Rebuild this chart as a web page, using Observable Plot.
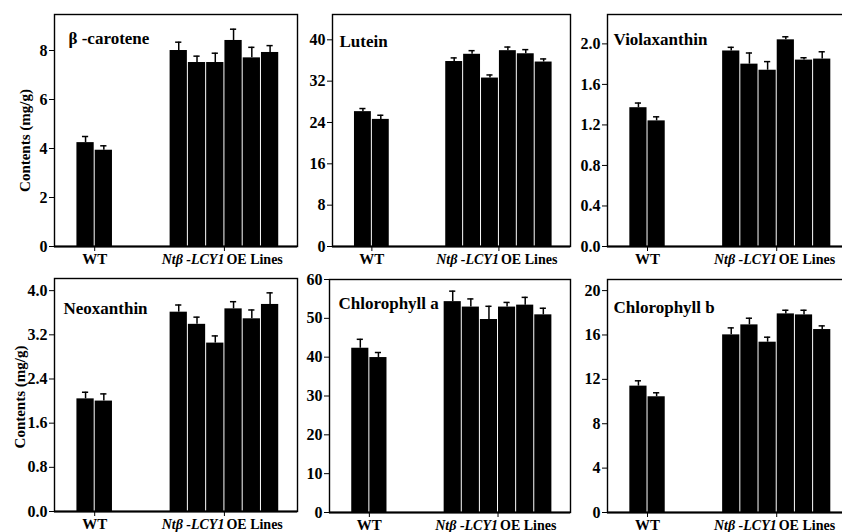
<!DOCTYPE html>
<html><head><meta charset="utf-8">
<script src="https://cdn.jsdelivr.net/npm/d3@7"></script>
<script src="https://cdn.jsdelivr.net/npm/@observablehq/plot@0.6"></script>
<style>
html,body{margin:0;padding:0;background:#fff;}
#chart{position:relative;width:842px;height:532px;overflow:hidden;font-family:"Liberation Serif","Times New Roman",serif;}
</style></head><body><div id="chart"></div>
<script>
// ---- data ----
const lines = ["WT-1","WT-2","OE-1","OE-2","OE-3","OE-4","OE-5","OE-6"];
const groups = ["WT","WT","OE","OE","OE","OE","OE","OE"];
const titles = ["β -carotene","Lutein","Violaxanthin","Neoxanthin","Chlorophyll a","Chlorophyll b"];
const betaCarotene    = [4.24, 3.93, 8.00, 7.51, 7.51, 8.41, 7.70, 7.92];
const betaCaroteneErr = [0.25, 0.18, 0.34, 0.26, 0.38, 0.46, 0.43, 0.28];
const lutein          = [26.1, 24.6, 35.8, 37.2, 32.6, 37.9, 37.3, 35.7];
const luteinErr       = [0.6, 0.8, 0.7, 0.7, 0.6, 0.7, 0.8, 0.6];
const violaxanthin    = [1.37, 1.24, 1.93, 1.80, 1.74, 2.04, 1.84, 1.85];
const violaxanthinErr = [0.046, 0.04, 0.036, 0.11, 0.085, 0.03, 0.023, 0.072];
const neoxanthin      = [2.04, 2.00, 3.61, 3.39, 3.05, 3.67, 3.49, 3.75];
const neoxanthinErr   = [0.12, 0.13, 0.13, 0.13, 0.13, 0.13, 0.16, 0.21];
const chlA            = [42.3, 39.9, 54.3, 52.9, 49.7, 52.9, 53.4, 50.9];
const chlAErr         = [2.3, 1.3, 2.7, 2.1, 3.4, 1.2, 2.0, 1.7];
const chlB            = [11.39, 10.43, 16.01, 16.91, 15.35, 17.90, 17.81, 16.49];
const chlBErr         = [0.48, 0.36, 0.63, 0.60, 0.45, 0.33, 0.42, 0.33];
const yTicks1 = [0, 2, 4, 6, 8];
const yTicks2 = [0, 8, 16, 24, 32, 40];
const yTicks3 = [0, 0.4, 0.8, 1.2, 1.6, 2.0];
const yTicks4 = [0, 0.8, 1.6, 2.4, 3.2, 4.0];
const yTicks5 = [0, 10, 20, 30, 40, 50, 60];
const yTicks6 = [0, 4, 8, 12, 16, 20];
const yMax = [9.47, 44.9, 2.29, 4.22, 60, 21];
const xLabelWT = "WT";
const xLabelOEItalic = "Ntβ -LCY1";
const xLabelOE = "OE Lines";
const yTitle = "Contents (mg/g)";

// ---- layout ----
const FONT = "Liberation Serif";
const X_DOMAIN = [0, 13.3];
const WT_START = 1.2, OE_START = 6.3;
function slot(i) { return groups[i] === "WT" ? WT_START + i : OE_START + (i - 2); }
const WT_CENTER = WT_START + 1, OE_CENTER = OE_START + 3;

const panels = [
  {title: titles[0], v: betaCarotene, e: betaCaroteneErr, ticks: yTicks1, fmt: d3.format("d"), max: yMax[0],
   fl: 54, fr: 297, ft: 14, fb: 246, tdx: 14, tdy: 29, yTitle: true, ytdx: -29, ytdy: 10},
  {title: titles[1], v: lutein, e: luteinErr, ticks: yTicks2, fmt: d3.format("d"), max: yMax[1],
   fl: 332, fr: 570, ft: 14, fb: 246, tdx: 7, tdy: 32},
  {title: titles[2], v: violaxanthin, e: violaxanthinErr, ticks: yTicks3, fmt: d3.format(".1f"), max: yMax[2],
   fl: 607, fr: 849, ft: 14, fb: 246, tdx: 6, tdy: 30},
  {title: titles[3], v: neoxanthin, e: neoxanthinErr, ticks: yTicks4, fmt: d3.format(".1f"), max: yMax[3],
   fl: 54, fr: 297, ft: 278, fb: 511, tdx: 9, tdy: 35, yTitle: true, ytdx: -34, ytdy: 2},
  {title: titles[4], v: chlA, e: chlAErr, ticks: yTicks5, fmt: d3.format("d"), max: yMax[4],
   fl: 329, fr: 570, ft: 279, fb: 512, tdx: 9, tdy: 29},
  {title: titles[5], v: chlB, e: chlBErr, ticks: yTicks6, fmt: d3.format("d"), max: yMax[5],
   fl: 607, fr: 849, ft: 279, fb: 512, tdx: 6, tdy: 33}
];

const container = document.getElementById("chart");
for (const p of panels) {
  const mL = p.fl, mR = 4, mT = 4, mB = 30;
  const fw = p.fr - p.fl, fh = p.fb - p.ft;
  const data = lines.map((id, i) => ({id, group: groups[i], v: p.v[i], e: p.e[i], x0: slot(i)}));
  const labels = [{x: WT_CENTER, t: xLabelWT}];
  const marks = [
    Plot.rectY(data, {x1: "x0", x2: d => d.x0 + 1, y1: 0, y2: "v", fill: "black", insetLeft: 0.5, insetRight: 0.5}),
    Plot.ruleX(data, {x: d => d.x0 + 0.5, y1: "v", y2: d => d.v + d.e, stroke: "black", strokeWidth: 1.5}),
    Plot.ruleY(data, {y: d => d.v + d.e, x1: d => d.x0 + 0.33, x2: d => d.x0 + 0.67, stroke: "black", strokeWidth: 1.5}),
    Plot.frame({stroke: "black", strokeWidth: 1.4}),
    Plot.ruleY([0], {stroke: "black", strokeWidth: 2}),
    Plot.text([p.title], {frameAnchor: "top-left", dx: p.tdx, dy: p.tdy, lineAnchor: "bottom", textAnchor: "start",
      fontSize: 17, fontWeight: "bold", fontFamily: FONT, fill: "black"}),
    Plot.text(labels, {x: "x", text: "t", frameAnchor: "bottom", dy: 17, lineAnchor: "bottom", textAnchor: "middle",
      fontSize: 15, fontWeight: "bold", fontFamily: FONT, fill: "black"}),
    Plot.text([{x: OE_CENTER, t: xLabelOEItalic}], {x: "x", text: "t", frameAnchor: "bottom", dy: 17, dx: 0, lineAnchor: "bottom",
      textAnchor: "end", fontSize: 14, fontWeight: "bold", fontStyle: "italic", fontFamily: FONT, fill: "black"}),
    Plot.text([{x: OE_CENTER, t: xLabelOE}], {x: "x", text: "t", frameAnchor: "bottom", dy: 17, dx: 2, lineAnchor: "bottom",
      textAnchor: "start", fontSize: 14, fontWeight: "bold", fontFamily: FONT, fill: "black"})
  ];
  if (p.yTitle) {
    marks.push(Plot.text([yTitle], {frameAnchor: "left", dx: p.ytdx, dy: p.ytdy, rotate: -90, textAnchor: "middle",
      fontSize: 15, fontWeight: "bold", fontFamily: FONT, fill: "black"}));
  }
  const svg = Plot.plot({
    width: mL + fw + mR, height: mT + fh + mB,
    marginLeft: mL, marginRight: mR, marginTop: mT, marginBottom: mB,
    x: {domain: X_DOMAIN, ticks: [WT_CENTER, OE_CENTER], tickFormat: () => "", tickSize: 5, label: null},
    y: {domain: [0, p.max], ticks: p.ticks, tickFormat: p.fmt, tickSize: 5, tickPadding: 2, label: null},
    style: {position: "absolute", left: "0px", top: (p.ft - mT) + "px", background: "none", overflow: "visible",
      fontFamily: FONT, fontSize: "16px", fontWeight: "bold", color: "black", maxWidth: "none"},
    marks
  });
  container.appendChild(svg);
}
</script></body></html>
